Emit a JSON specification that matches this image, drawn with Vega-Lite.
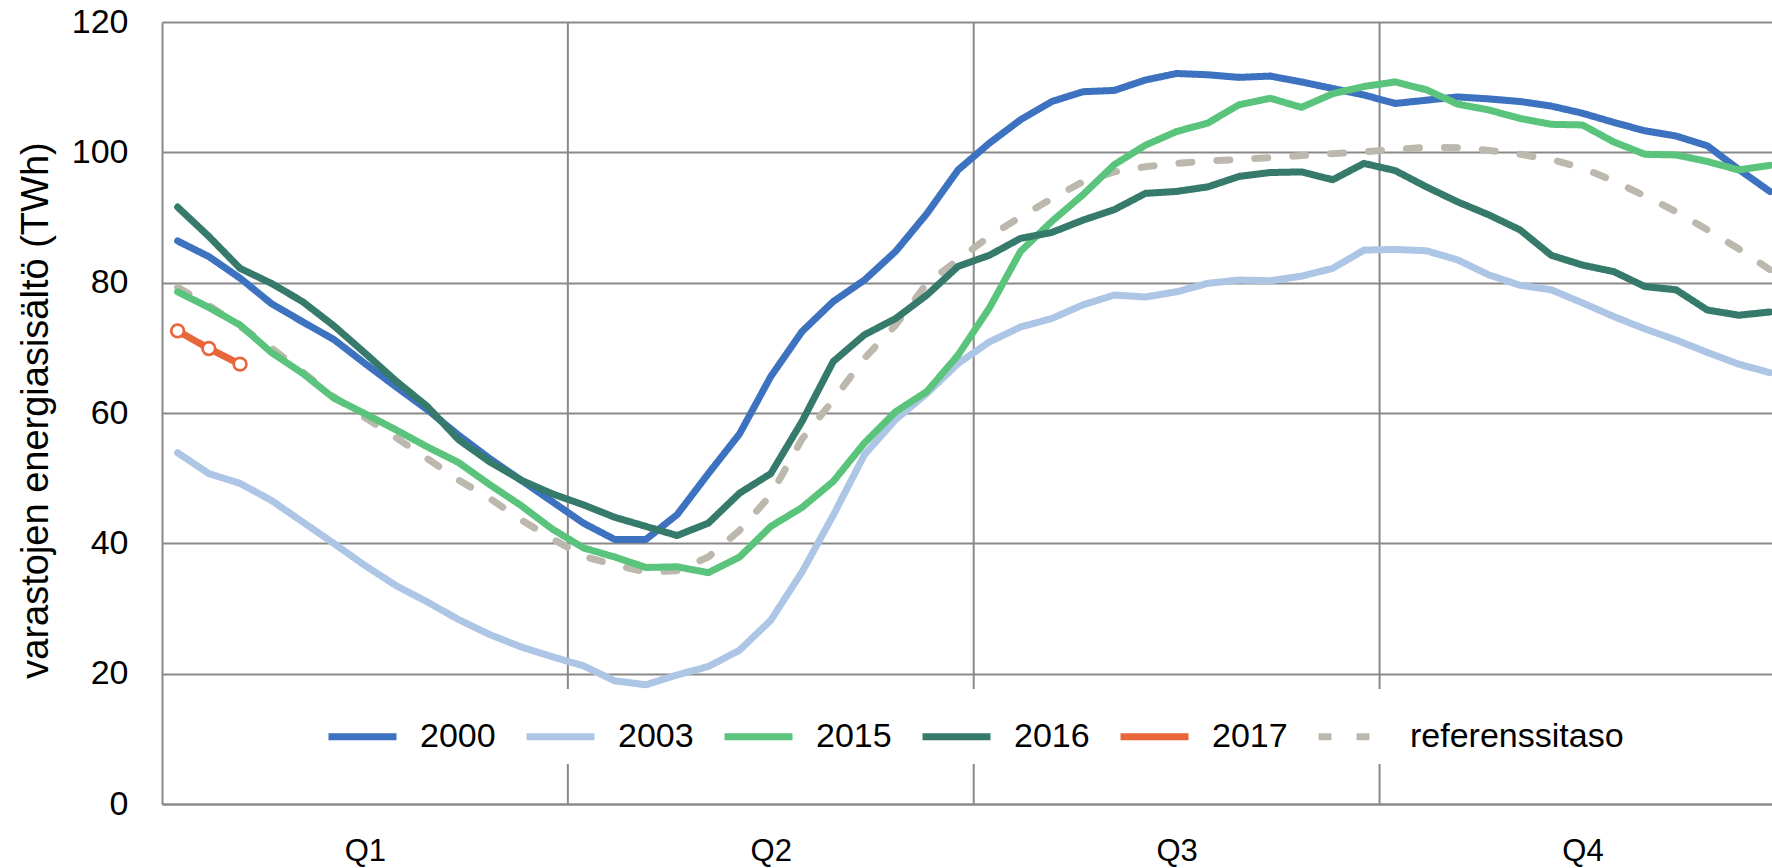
{
  "$schema": "https://vega.github.io/schema/vega-lite/v6.json",
  "width": 1610,
  "height": 782,
  "autosize": {"type": "none"},
  "padding": {"left": 162, "top": 22, "right": 0, "bottom": 64},
  "background": "white",
  "config": {"view": {"stroke": null}, "font": "Liberation Sans"},
  "datasets": {
    "weeks": [
      {"w": 1, "2000": 86.4, "2003": 53.9, "2015": 78.6, "2016": 91.6, "2017": 72.6, "referenssitaso": 79.3},
      {"w": 2, "2000": 84.0, "2003": 50.7, "2015": 76.2, "2016": 87.1, "2017": 69.9, "referenssitaso": 76.5},
      {"w": 3, "2000": 80.7, "2003": 49.2, "2015": 73.5, "2016": 82.2, "2017": 67.5, "referenssitaso": 73.3},
      {"w": 4, "2000": 76.8, "2003": 46.6, "2015": 69.3, "2016": 79.9, "referenssitaso": 70.0},
      {"w": 5, "2000": 74.0, "2003": 43.3, "2015": 66.1, "2016": 77.1, "referenssitaso": 66.3},
      {"w": 6, "2000": 71.3, "2003": 40.0, "2015": 62.3, "2016": 73.4, "referenssitaso": 62.5},
      {"w": 7, "2000": 67.6, "2003": 36.6, "2015": 59.9, "2016": 69.2, "referenssitaso": 59.3},
      {"w": 8, "2000": 64.0, "2003": 33.5, "2015": 57.4, "2016": 64.9, "referenssitaso": 56.2},
      {"w": 9, "2000": 60.5, "2003": 31.0, "2015": 54.8, "2016": 61.0, "referenssitaso": 53.0},
      {"w": 10, "2000": 56.6, "2003": 28.3, "2015": 52.4, "2016": 55.9, "referenssitaso": 49.7},
      {"w": 11, "2000": 53.0, "2003": 26.0, "2015": 49.0, "2016": 52.5, "referenssitaso": 46.9},
      {"w": 12, "2000": 49.7, "2003": 24.1, "2015": 45.8, "2016": 49.7, "referenssitaso": 43.6},
      {"w": 13, "2000": 46.4, "2003": 22.6, "2015": 42.2, "2016": 47.6, "referenssitaso": 40.7},
      {"w": 14, "2000": 43.1, "2003": 21.2, "2015": 39.3, "2016": 45.9, "referenssitaso": 38.0},
      {"w": 15, "2000": 40.6, "2003": 18.9, "2015": 37.9, "2016": 44.0, "referenssitaso": 36.7},
      {"w": 16, "2000": 40.6, "2003": 18.3, "2015": 36.3, "2016": 42.6, "referenssitaso": 35.6},
      {"w": 17, "2000": 44.4, "2003": 19.8, "2015": 36.4, "2016": 41.2, "referenssitaso": 35.8},
      {"w": 18, "2000": 50.7, "2003": 21.1, "2015": 35.5, "2016": 43.1, "referenssitaso": 37.9},
      {"w": 19, "2000": 56.8, "2003": 23.6, "2015": 37.9, "2016": 47.7, "referenssitaso": 42.0},
      {"w": 20, "2000": 65.6, "2003": 28.2, "2015": 42.6, "2016": 50.7, "referenssitaso": 47.4},
      {"w": 21, "2000": 72.5, "2003": 35.6, "2015": 45.5, "2016": 58.7, "referenssitaso": 56.0},
      {"w": 22, "2000": 77.1, "2003": 44.3, "2015": 49.5, "2016": 67.9, "referenssitaso": 62.0},
      {"w": 23, "2000": 80.4, "2003": 53.6, "2015": 55.4, "2016": 72.0, "referenssitaso": 68.4},
      {"w": 24, "2000": 84.8, "2003": 59.0, "2015": 60.2, "2016": 74.5, "referenssitaso": 73.5},
      {"w": 25, "2000": 90.6, "2003": 63.0, "2015": 63.3, "2016": 78.1, "referenssitaso": 79.9},
      {"w": 26, "2000": 97.3, "2003": 67.6, "2015": 68.9, "2016": 82.5, "referenssitaso": 83.5},
      {"w": 27, "2000": 101.4, "2003": 70.9, "2015": 76.1, "2016": 84.2, "referenssitaso": 87.1},
      {"w": 28, "2000": 105.0, "2003": 73.2, "2015": 84.8, "2016": 86.8, "referenssitaso": 90.1},
      {"w": 29, "2000": 107.8, "2003": 74.5, "2015": 89.4, "2016": 87.7, "referenssitaso": 92.9},
      {"w": 30, "2000": 109.3, "2003": 76.6, "2015": 93.5, "2016": 89.6, "referenssitaso": 95.5},
      {"w": 31, "2000": 109.5, "2003": 78.1, "2015": 98.1, "2016": 91.2, "referenssitaso": 97.0},
      {"w": 32, "2000": 111.1, "2003": 77.8, "2015": 101.1, "2016": 93.7, "referenssitaso": 97.8},
      {"w": 33, "2000": 112.1, "2003": 78.6, "2015": 103.2, "2016": 94.0, "referenssitaso": 98.3},
      {"w": 34, "2000": 111.9, "2003": 79.9, "2015": 104.5, "2016": 94.7, "referenssitaso": 98.7},
      {"w": 35, "2000": 111.5, "2003": 80.4, "2015": 107.3, "2016": 96.3, "referenssitaso": 98.9},
      {"w": 36, "2000": 111.7, "2003": 80.3, "2015": 108.3, "2016": 96.9, "referenssitaso": 99.2},
      {"w": 37, "2000": 110.8, "2003": 81.0, "2015": 106.9, "2016": 97.0, "referenssitaso": 99.5},
      {"w": 38, "2000": 109.8, "2003": 82.2, "2015": 109.0, "2016": 95.8, "referenssitaso": 99.8},
      {"w": 39, "2000": 108.8, "2003": 85.0, "2015": 110.1, "2016": 98.3, "referenssitaso": 100.1},
      {"w": 40, "2000": 107.5, "2003": 85.1, "2015": 110.8, "2016": 97.2, "referenssitaso": 100.4},
      {"w": 41, "2000": 108.0, "2003": 84.9, "2015": 109.6, "2016": 94.7, "referenssitaso": 100.8},
      {"w": 42, "2000": 108.5, "2003": 83.5, "2015": 107.4, "2016": 92.4, "referenssitaso": 100.7},
      {"w": 43, "2000": 108.2, "2003": 81.2, "2015": 106.5, "2016": 90.4, "referenssitaso": 100.3},
      {"w": 44, "2000": 107.8, "2003": 79.6, "2015": 105.2, "2016": 88.1, "referenssitaso": 99.7},
      {"w": 45, "2000": 107.1, "2003": 78.9, "2015": 104.3, "2016": 84.2, "referenssitaso": 98.9},
      {"w": 46, "2000": 106.0, "2003": 76.9, "2015": 104.2, "2016": 82.7, "referenssitaso": 97.6},
      {"w": 47, "2000": 104.6, "2003": 74.8, "2015": 101.6, "2016": 81.7, "referenssitaso": 95.6},
      {"w": 48, "2000": 103.3, "2003": 72.9, "2015": 99.7, "2016": 79.4, "referenssitaso": 93.3},
      {"w": 49, "2000": 102.5, "2003": 71.2, "2015": 99.6, "2016": 78.9, "referenssitaso": 90.9},
      {"w": 50, "2000": 101.0, "2003": 69.3, "2015": 98.6, "2016": 75.8, "referenssitaso": 88.1},
      {"w": 51, "2000": 97.4, "2003": 67.5, "2015": 97.3, "2016": 75.0, "referenssitaso": 85.2},
      {"w": 52, "2000": 94.0, "2003": 66.2, "2015": 98.0, "2016": 75.5, "referenssitaso": 82.0}
    ],
    "quarters": [{"b": 13.5}, {"b": 26.5}, {"b": 39.5}]
  },
  "layer": [
    {
      "data": {"name": "quarters"},
      "mark": {"type": "rule", "color": "#898989", "strokeWidth": 2},
      "encoding": {
        "x": {
          "field": "b", "type": "quantitative",
          "scale": {"domain": [0.5, 52.07], "nice": false, "zero": false},
          "axis": {
            "values": [7, 20, 33, 46],
            "labelExpr": "datum.value == 7 ? 'Q1' : datum.value == 20 ? 'Q2' : datum.value == 33 ? 'Q3' : 'Q4'",
            "grid": false, "ticks": false, "domain": true,
            "domainColor": "#898989", "domainWidth": 2,
            "labelFontSize": 31, "labelPadding": 32, "labelColor": "black",
            "labelFont": "Liberation Sans", "labelFlush": false, "labelOverlap": false,
            "title": null
          }
        }
      }
    },
    {
      "data": {"name": "weeks"},
      "transform": [
        {"fold": ["referenssitaso", "2000", "2003", "2015", "2016", "2017"], "as": ["series", "value"]},
        {"filter": "isValid(datum.value)"}
      ],
      "mark": {"type": "line", "strokeWidth": 7, "strokeCap": "round", "strokeJoin": "round"},
      "encoding": {
        "x": {"field": "w", "type": "quantitative", "scale": {"domain": [0.5, 52.07], "nice": false, "zero": false}},
        "y": {
          "field": "value", "type": "quantitative",
          "scale": {"domain": [0, 120], "nice": false},
          "axis": {
            "values": [0, 20, 40, 60, 80, 100, 120],
            "grid": true, "gridColor": "#898989", "gridWidth": 2,
            "domain": true, "domainColor": "#898989", "domainWidth": 2,
            "ticks": false,
            "labelFontSize": 34, "labelColor": "black", "labelPadding": 34, "labelFont": "Liberation Sans",
            "title": "varastojen energiasisältö (TWh)",
            "titleFontSize": 38, "titleFontWeight": "normal", "titleColor": "black", "titleFont": "Liberation Sans",
            "titleX": -115, "titleY": 388, "titleAngle": -90, "titleBaseline": "alphabetic", "titleAlign": "center"
          }
        },
        "color": {
          "field": "series", "type": "nominal",
          "scale": {
            "domain": ["2000", "2003", "2015", "2016", "2017", "referenssitaso"],
            "range": ["#3C72BF", "#ADC6E6", "#5AC47C", "#357A6A", "#E9653A", "#BDB8AE"]
          },
          "legend": {
            "orient": "none", "legendX": 153, "legendY": 667,
            "direction": "horizontal", "title": null,
            "symbolType": "stroke", "symbolSize": 4624, "symbolStrokeWidth": 7,
            "labelFontSize": 34, "labelFont": "Liberation Sans", "labelColor": "black",
            "labelOffset": 20, "columnPadding": 16, "padding": 10, "labelLimit": 400,
            "fillColor": "white"
          }
        },
        "strokeDash": {
          "field": "series", "type": "nominal",
          "scale": {
            "domain": ["2000", "2003", "2015", "2016", "2017", "referenssitaso"],
            "range": [[1, 0], [1, 0], [1, 0], [1, 0], [1, 0], [13, 25]]
          },
          "legend": {
            "orient": "none", "legendX": 153, "legendY": 667,
            "direction": "horizontal", "title": null,
            "symbolType": "stroke", "symbolSize": 4624, "symbolStrokeWidth": 7,
            "labelFontSize": 34, "labelFont": "Liberation Sans", "labelColor": "black",
            "labelOffset": 20, "columnPadding": 16, "padding": 10, "labelLimit": 400,
            "fillColor": "white"
          }
        }
      }
    },
    {
      "data": {"name": "weeks"},
      "transform": [
        {"fold": ["2017"], "as": ["series", "value"]},
        {"filter": "isValid(datum.value)"}
      ],
      "mark": {"type": "point", "shape": "circle", "fill": "white", "stroke": "#E9653A", "strokeWidth": 2.7, "size": 160, "opacity": 1, "filled": false},
      "encoding": {
        "x": {"field": "w", "type": "quantitative", "scale": {"domain": [0.5, 52.07], "nice": false, "zero": false}},
        "y": {"field": "value", "type": "quantitative", "scale": {"domain": [0, 120], "nice": false}}
      }
    }
  ]
}
